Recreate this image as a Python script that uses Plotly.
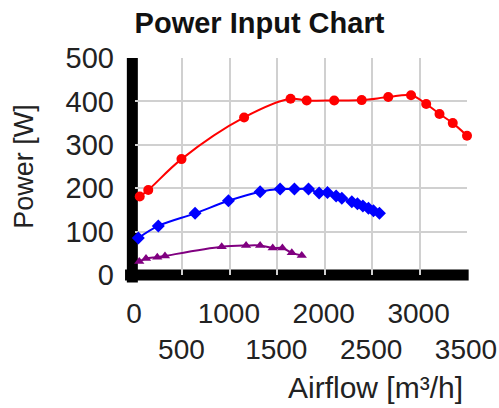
import plotly.graph_objects as go

# --- data ---
red_x = [50, 140, 490, 1150, 1640, 1810, 2100, 2390, 2670, 2910, 3070, 3210, 3350, 3500]
red_y = [181, 196, 267, 363, 406, 402, 402, 403, 410, 414, 394, 371, 350, 321]

blue_x = [35, 246, 633, 985, 1319, 1530, 1681, 1829, 1941, 2029, 2120, 2180, 2286, 2345,
          2402, 2461, 2514, 2577]
blue_y = [85, 113, 142, 171, 192, 198, 198, 198, 189, 190, 182, 177, 169, 164,
          159, 154, 148, 142]

purple_x = [45, 116, 235, 316, 914, 1171, 1319, 1452, 1554, 1653, 1758]
purple_y = [31, 38, 41, 44, 65, 68, 68, 62, 62, 51, 45]

x_ticks = [0, 500, 1000, 1500, 2000, 2500, 3000, 3500]
x_tick_labels = ["0", "<br>500", "1000", "<br>1500", "2000", "<br>2500", "3000", "<br>3500"]
y_ticks = [0, 100, 200, 300, 400, 500]
y_tick_labels = ["0", "100", "200", "300", "400", "500"]

FONT = "Liberation Sans, Arial, sans-serif"
TXT = "#222222"

fig = go.Figure()
fig.add_trace(go.Scatter(x=red_x, y=red_y, mode="lines+markers",
                         line=dict(color="#ff0000", width=2, shape="spline"),
                         marker=dict(symbol="circle", size=10, color="#ff0000"),
                         cliponaxis=False, showlegend=False))
fig.add_trace(go.Scatter(x=blue_x, y=blue_y, mode="lines+markers",
                         line=dict(color="#0000ff", width=2, shape="spline"),
                         marker=dict(symbol="diamond", size=10, color="#0000ff"),
                         cliponaxis=False, showlegend=False))
fig.add_trace(go.Scatter(x=purple_x, y=purple_y, mode="lines+markers",
                         line=dict(color="#800080", width=2, shape="spline"),
                         marker=dict(symbol="triangle-up", size=9, color="#800080"),
                         cliponaxis=False, showlegend=False))

fig.update_layout(
    width=499, height=408,
    margin=dict(l=135, r=32, t=58, b=133, autoexpand=False),
    paper_bgcolor="white", plot_bgcolor="white",
    font=dict(family=FONT, color=TXT),
    title=dict(text="<b>Power Input Chart</b>", font=dict(size=29, color="#111111"),
               xref="container", x=0.52, xanchor="center",
               yref="container", y=0.945, yanchor="middle"),
    xaxis=dict(range=[0, 3500], tickmode="array", tickvals=x_ticks, ticktext=x_tick_labels,
               showgrid=True, gridcolor="#d0d0d0", gridwidth=2, zeroline=False,
               showline=False, ticks="", tickangle=0, tickfont=dict(size=28, color=TXT),
               ticklabelstandoff=19, ticklabelshift=-1, automargin=False),
    yaxis=dict(range=[0, 500], tickmode="array", tickvals=y_ticks, ticktext=y_tick_labels,
               showgrid=True, gridcolor="#d0d0d0", gridwidth=2, zeroline=False,
               showline=False, ticks="", tickfont=dict(size=29, color=TXT),
               ticklabelstandoff=20, automargin=False,
               title=dict(text="Power [W]", font=dict(size=27, color=TXT), standoff=24)),
    shapes=[
        dict(type="line", xref="paper", yref="paper", x0=-0.008, x1=-0.008, y0=-0.035, y1=1.0,
             line=dict(color="black", width=11), layer="between"),
        dict(type="line", xref="paper", yref="paper", x0=-0.03, x1=1.005, y0=0.0, y1=0.0,
             line=dict(color="black", width=11), layer="between"),
    ],
    annotations=[
        dict(text="Airflow [m³/h]", xref="paper", yref="paper", x=0.725, y=-0.52,
             xanchor="center", yanchor="middle", showarrow=False,
             font=dict(size=30, color=TXT)),
    ],
)

fig.write_html("out.html", config={"displayModeBar": False},
               post_script="document.body.style.margin='0';document.body.style.padding='0';")
